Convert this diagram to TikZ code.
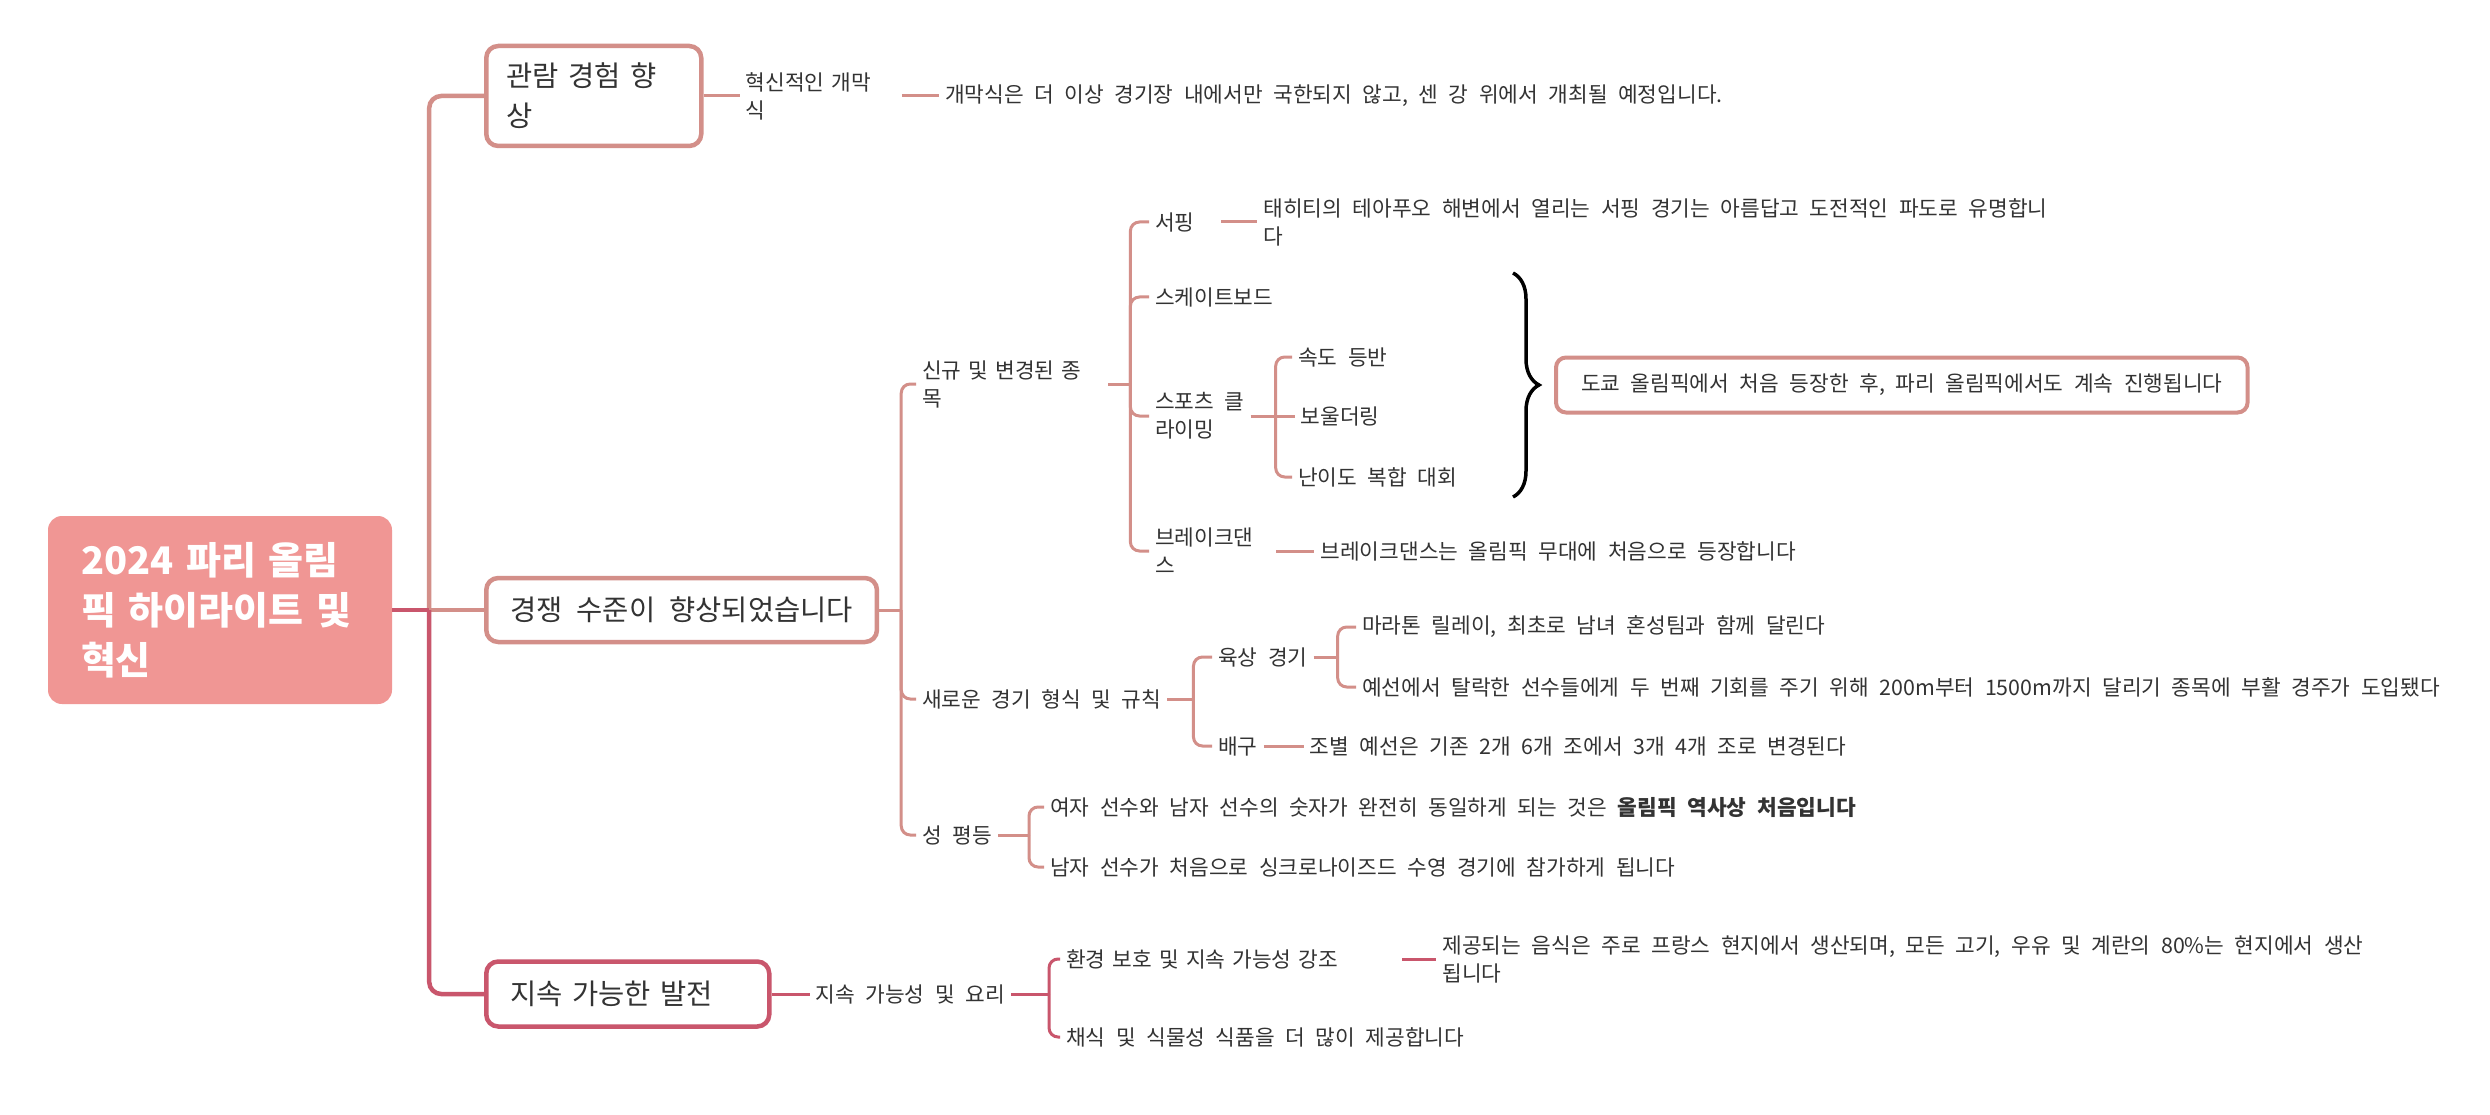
\documentclass[tikz,border=0pt]{standalone}
\usepackage{fontspec}
\setmainfont{Noto Sans CJK KR}[WordSpace=2.2]
\usetikzlibrary{positioning,decorations.pathreplacing}

\definecolor{rootpink}{HTML}{F09694}
\definecolor{lightred}{HTML}{D38F89}
\definecolor{darkred}{HTML}{C9566C}
\definecolor{txtgray}{HTML}{333333}

\tikzset{
  rootbox/.style={fill=rootpink, rounded corners=14pt, text=white,
    font=\bfseries\fontsize{38}{50}\selectfont, inner xsep=33pt,
    text width=278pt, minimum height=188pt, align=left},
  topicbox/.style={draw=#1, fill=white, line width=4.5pt, rounded corners=12pt,
    text=txtgray, font=\fontsize{28.5}{40}\selectfont, inner xsep=24pt,
    minimum height=64pt, align=left, anchor=west},
  notebox/.style={draw=lightred, fill=white, line width=4pt, rounded corners=10pt,
    text=txtgray, font=\fontsize{21.4}{28}\selectfont, inner xsep=25pt,
    minimum height=55pt, anchor=west},
  txt/.style={text=txtgray, font=\fontsize{21.4}{28}\selectfont,
    inner xsep=6pt, inner ysep=2pt, align=left, anchor=west},
  lvlone/.style={draw=#1, line width=4.5pt, rounded corners=12pt},
  lvltwo/.style={draw=#1, line width=3pt, rounded corners=9pt},
  bracket/.style={decorate, decoration={brace, amplitude=26pt}, line width=3.5pt}
}

\begin{document}
\begin{tikzpicture}[x=1pt, y=-1pt]
\useasboundingbox (0,0) rectangle (2490,1115);
\fill[white] (0,0) rectangle (2490,1115);

% nodes
\node[rootbox] (root) at (220,610) {2024 파리 올림\\픽 하이라이트 및\\혁신};
\node[topicbox=lightred, text width=175pt, inner xsep=20pt, minimum height=100pt] (obs) at (484,96) {관람 경험 향\\상};
\node[topicbox=lightred] (comp) at (484,610) {경쟁 수준이 향상되었습니다};
\node[topicbox=darkred, text width=235pt, minimum height=65pt] (sust) at (484,994) {지속 가능한 발전};

\node[txt, text width=150pt] (opening) [right=36pt of obs] {혁신적인 개막\\식};
\node[txt] (openTxt) [right=37pt of opening] {개막식은 더 이상 경기장 내에서만 국한되지 않고, 센 강 위에서 개최될 예정입니다.};

\node[txt, text width=180pt] (newEv) at (916,384) {신규 및 변경된 종\\목};
\node[txt] (format) at (916,699) {새로운 경기 형식 및 규칙};
\node[txt] (equal) at (916,835) {성 평등};

\node[txt, text width=60pt] (surf) at (1149,222) {서핑};
\node[txt] (surfTxt) [right=36pt of surf] {태히티의 테아푸오 해변에서 열리는 서핑 경기는 아름답고 도전적인 파도로 유명합니\\다};
\node[txt] (skate) at (1149,297) {스케이트보드};
\node[txt] (climb) at (1149,416) {스포츠 클\\라이밍};
\node[txt] (speed) at (1292,357) {속도 등반};
\node[txt] (boulder) [right=44pt of climb] {보울더링};
\node[txt] (lead) at (1292,477) {난이도 복합 대회};
\node[txt, text width=115pt] (breakd) at (1149,551) {브레이크댄\\스};
\node[txt] (breakTxt) [right=38pt of breakd] {브레이크댄스는 올림픽 무대에 처음으로 등장합니다};

\node[notebox] (tokyo) at (1554,385) {도쿄 올림픽에서 처음 등장한 후, 파리 올림픽에서도 계속 진행됩니다};

\node[txt] (track) at (1212,657) {육상 경기};
\node[txt] (relay) at (1356,627) {마라톤 릴레이, 최초로 남녀 혼성팀과 함께 달린다};
\node[txt] (repech) at (1356,687) {예선에서 탈락한 선수들에게 두 번째 기회를 주기 위해 200m부터 1500m까지 달리기 종목에 부활 경주가 도입됐다};
\node[txt] (volley) at (1212,746) {배구};
\node[txt] (volleyTxt) [right=40pt of volley] {조별 예선은 기존 2개 6개 조에서 3개 4개 조로 변경된다};

\node[txt] (equalA) at (1044,807) {여자 선수와 남자 선수의 숫자가 완전히 동일하게 되는 것은 \textbf{올림픽 역사상 처음입니다}};
\node[txt] (equalB) at (1044,867) {남자 선수가 처음으로 싱크로나이즈드 수영 경기에 참가하게 됩니다};

\node[txt] (sustFood) [right=38pt of sust] {지속 가능성 및 요리};
\node[txt, text width=330pt] (env) at (1060,959) {환경 보호 및 지속 가능성 강조};
\node[txt] (envTxt) [right=34pt of env] {제공되는 음식은 주로 프랑스 현지에서 생산되며, 모든 고기, 우유 및 계란의 80\%는 현지에서 생산\\됩니다};
\node[txt] (veg) at (1060,1037) {채식 및 식물성 식품을 더 많이 제공합니다};

% junctions
\path (root.east) ++(37,0) coordinate (rootJ);
\path (comp.east) ++(22,0) coordinate (compJ);
\path (newEv.east) ++(22,0) coordinate (newJ);
\path (climb.east) ++(25,0) coordinate (climbJ);
\path (format.east) ++(26,0) coordinate (formatJ);
\path (track.east) ++(24,0) coordinate (trackJ);
\path (equal.east) ++(31,0) coordinate (equalJ);
\path (sustFood.east) ++(38,0) coordinate (foodJ);
\coordinate (braceTop) at (1513,273);
\coordinate (braceBot) at (1513,497);

% lines
\draw[lvlone=lightred] (rootJ) |- (obs.west);
\draw[lvlone=lightred] (rootJ) -- (comp.west);
\draw[lvlone=darkred] (rootJ) |- (sust.west);
\draw[lvlone=darkred] (root.east) -- (rootJ);

\draw[lvltwo=lightred] (obs.east) -- (opening.west);
\draw[lvltwo=lightred] (opening.east) -- (openTxt.west);

\draw[lvltwo=lightred] (comp.east) -- (compJ);
\draw[lvltwo=lightred] (compJ) |- (newEv.west);
\draw[lvltwo=lightred] (compJ) |- (format.west);
\draw[lvltwo=lightred] (compJ) |- (equal.west);

\draw[lvltwo=lightred] (newEv.east) -- (newJ);
\draw[lvltwo=lightred] (newJ) |- (surf.west);
\draw[lvltwo=lightred] (newJ) |- (skate.west);
\draw[lvltwo=lightred] (newJ) |- (climb.west);
\draw[lvltwo=lightred] (newJ) |- (breakd.west);
\draw[lvltwo=lightred] (surf.east) -- (surfTxt.west);
\draw[lvltwo=lightred] (climb.east) -- (boulder.west);
\draw[lvltwo=lightred] (climbJ) |- (speed.west);
\draw[lvltwo=lightred] (climbJ) |- (lead.west);
\draw[lvltwo=lightred] (breakd.east) -- (breakTxt.west);

\draw[lvltwo=lightred] (format.east) -- (formatJ);
\draw[lvltwo=lightred] (formatJ) |- (track.west);
\draw[lvltwo=lightred] (formatJ) |- (volley.west);
\draw[lvltwo=lightred] (track.east) -- (trackJ);
\draw[lvltwo=lightred] (trackJ) |- (relay.west);
\draw[lvltwo=lightred] (trackJ) |- (repech.west);
\draw[lvltwo=lightred] (volley.east) -- (volleyTxt.west);

\draw[lvltwo=lightred] (equal.east) -- (equalJ);
\draw[lvltwo=lightred] (equalJ) |- (equalA.west);
\draw[lvltwo=lightred] (equalJ) |- (equalB.west);

\draw[lvltwo=darkred] (sust.east) -- (sustFood.west);
\draw[lvltwo=darkred] (sustFood.east) -- (foodJ);
\draw[lvltwo=darkred] (foodJ) |- (env.west);
\draw[lvltwo=darkred] (foodJ) |- (veg.west);
\draw[lvltwo=darkred] (env.east) -- (envTxt.west);

% brace
\draw[bracket] (braceTop) -- (braceBot);
\end{tikzpicture}
\end{document}
